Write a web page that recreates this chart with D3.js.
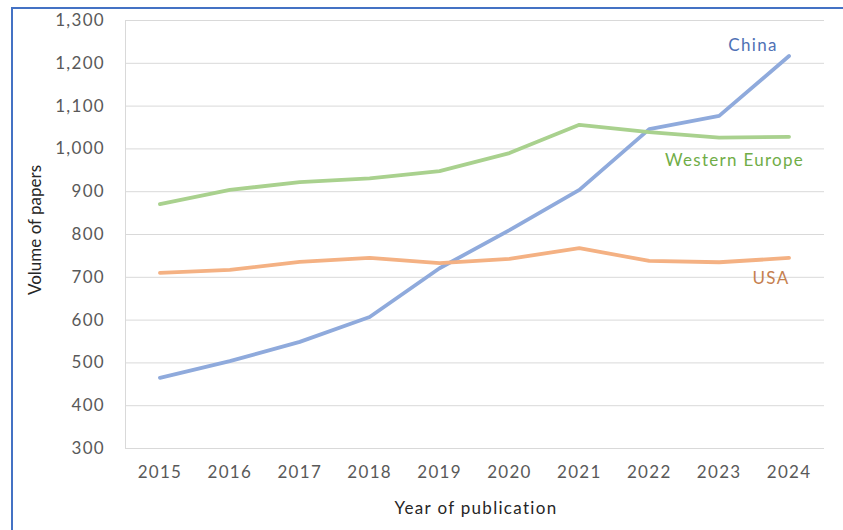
<!DOCTYPE html>
<html><head><meta charset="utf-8">
<script src="https://cdn.jsdelivr.net/npm/d3@7"></script>
<style>body{margin:0;background:#fff}svg{display:block}</style>
</head><body>
<svg id="c" width="843" height="530"></svg>
<script>
const years = ["2015","2016","2017","2018","2019","2020","2021","2022","2023","2024"];
const china = [464, 503, 548, 606, 720, 809, 903, 1045, 1076, 1216];
const westernEurope = [870, 903, 921, 930, 947, 989, 1055, 1038, 1025, 1027];
const usa = [709, 716, 735, 744, 732, 742, 767, 737, 734, 744];
const yTicks = [300,400,500,600,700,800,900,1000,1100,1200,1300];
const seriesNames = ["China","Western Europe","USA"];

const svg = d3.select("#c");
const font = "Lato, 'Open Sans', sans-serif";
const LS = 1.3;
const L = 125, R = 824, T = 20, B = 448;

svg.append("path").attr("d","M12,530V8H843").attr("fill","none").attr("stroke","#4472c4").attr("stroke-width",2);

const x = d3.scaleBand().domain(years).range([L,R]);
const y = d3.scaleLinear().domain([300,1300]).range([B,T]);

const gy = svg.append("g").attr("transform",`translate(${L},0)`)
  .call(d3.axisLeft(y).tickValues(yTicks).tickSize(-(R-L)).tickPadding(20).tickFormat(d3.format(",")));
gy.select(".domain").attr("stroke","#d9d9d9");
gy.selectAll(".tick line").attr("stroke","#d9d9d9");
gy.selectAll("text").attr("font-family",font).attr("font-size",17).attr("letter-spacing",LS).attr("fill","#595959");

const gx = svg.append("g").attr("transform",`translate(0,${B})`)
  .call(d3.axisBottom(x).tickSize(0).tickPadding(18));
gx.select(".domain").remove();
gx.selectAll("text").attr("font-family",font).attr("font-size",17).attr("letter-spacing",LS).attr("fill","#595959");

svg.append("text").attr("x",476).attr("y",514).attr("text-anchor","middle")
  .attr("font-family",font).attr("font-size",17).attr("letter-spacing",LS).attr("fill","#262626").text("Year of publication");
svg.append("text").attr("transform","translate(41,230) rotate(-90)").attr("text-anchor","middle")
  .attr("font-family",font).attr("font-size",17).attr("fill","#262626").text("Volume of papers");

const line = d3.line().x((d,i)=>x(years[i])+x.bandwidth()/2).y(d=>y(d));
const series = [
  {name:seriesNames[0], data:china, color:"#8faadc", tc:"#4f71b5", lx:753, ly:51, anchor:"middle"},
  {name:seriesNames[1], data:westernEurope, color:"#a9d18e", tc:"#70ad47", lx:665, ly:166, anchor:"start"},
  {name:seriesNames[2], data:usa, color:"#f4b183", tc:"#c5804f", lx:771, ly:284, anchor:"middle"}
];
series.forEach(s=>{
  svg.append("path").attr("d",line(s.data)).attr("fill","none").attr("stroke",s.color)
    .attr("stroke-width",3.8).attr("stroke-linejoin","round").attr("stroke-linecap","round");
  svg.append("text").attr("x",s.lx).attr("y",s.ly).attr("text-anchor",s.anchor)
    .attr("font-family",font).attr("font-size",17).attr("letter-spacing",LS).attr("fill",s.tc).text(s.name);
});
</script>
</body></html>
